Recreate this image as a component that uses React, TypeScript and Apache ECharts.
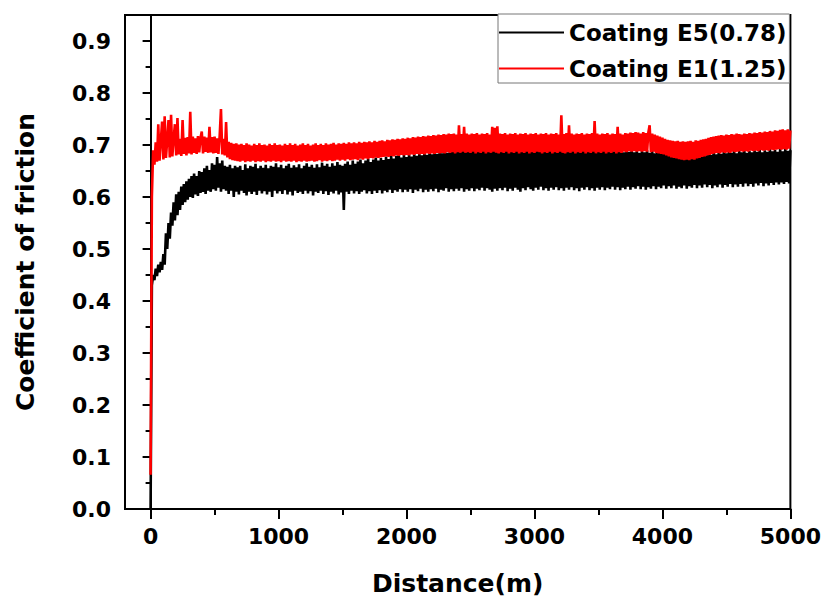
import React, { useEffect, useRef } from "react";
import * as echarts from "echarts";

// Sampling step of the recorded distance (m)
const STEP_M = 10;

// Coating E5(0.78) – coefficient of friction every 10 m, 0 … 5000 m
const E5_COF = [
  0, 0.43, 0.45, 0.44, 0.462, 0.448, 0.47, 0.455, 0.475, 0.46,
  0.49, 0.47, 0.53, 0.5, 0.55, 0.52, 0.57, 0.545, 0.59, 0.555,
  0.605, 0.565, 0.61, 0.575, 0.62, 0.585, 0.625, 0.59, 0.63, 0.595,
  0.635, 0.6, 0.64, 0.598, 0.645, 0.605, 0.64, 0.602, 0.65, 0.608,
  0.648, 0.61, 0.655, 0.606, 0.66, 0.612, 0.652, 0.61, 0.665, 0.615,
  0.662, 0.612, 0.677, 0.618, 0.665, 0.61, 0.67, 0.615, 0.66, 0.612,
  0.658, 0.606, 0.662, 0.612, 0.655, 0.6, 0.66, 0.61, 0.657, 0.605,
  0.66, 0.612, 0.652, 0.608, 0.663, 0.603, 0.655, 0.61, 0.66, 0.606,
  0.658, 0.61, 0.664, 0.604, 0.655, 0.612, 0.66, 0.607, 0.656, 0.611,
  0.662, 0.605, 0.655, 0.61, 0.66, 0.6, 0.658, 0.612, 0.665, 0.607,
  0.657, 0.611, 0.662, 0.606, 0.655, 0.613, 0.66, 0.605, 0.664, 0.61,
  0.656, 0.603, 0.661, 0.612, 0.657, 0.608, 0.663, 0.61, 0.655, 0.606,
  0.66, 0.612, 0.665, 0.607, 0.658, 0.611, 0.662, 0.603, 0.656, 0.61,
  0.663, 0.608, 0.657, 0.612, 0.666, 0.606, 0.66, 0.611, 0.664, 0.604,
  0.658, 0.61, 0.665, 0.607, 0.66, 0.612, 0.667, 0.605, 0.662, 0.609,
  0.66, 0.575, 0.664, 0.61, 0.668, 0.606, 0.662, 0.612, 0.67, 0.607,
  0.664, 0.611, 0.668, 0.606, 0.672, 0.61, 0.665, 0.613, 0.67, 0.607,
  0.674, 0.611, 0.667, 0.606, 0.672, 0.612, 0.676, 0.608, 0.67, 0.613,
  0.675, 0.607, 0.671, 0.612, 0.678, 0.609, 0.673, 0.614, 0.68, 0.608,
  0.674, 0.613, 0.679, 0.61, 0.682, 0.615, 0.676, 0.609, 0.681, 0.614,
  0.677, 0.61, 0.683, 0.615, 0.678, 0.608, 0.685, 0.614, 0.679, 0.611,
  0.684, 0.616, 0.68, 0.609, 0.686, 0.614, 0.681, 0.61, 0.687, 0.615,
  0.682, 0.611, 0.688, 0.616, 0.683, 0.609, 0.689, 0.614, 0.684, 0.612,
  0.69, 0.617, 0.685, 0.61, 0.688, 0.615, 0.692, 0.611, 0.686, 0.616,
  0.691, 0.612, 0.687, 0.617, 0.693, 0.61, 0.688, 0.615, 0.695, 0.612,
  0.689, 0.617, 0.694, 0.611, 0.69, 0.616, 0.696, 0.613, 0.691, 0.618,
  0.697, 0.612, 0.692, 0.617, 0.698, 0.614, 0.693, 0.61, 0.699, 0.616,
  0.694, 0.612, 0.7, 0.617, 0.695, 0.613, 0.698, 0.618, 0.693, 0.611,
  0.699, 0.616, 0.695, 0.612, 0.701, 0.618, 0.696, 0.614, 0.7, 0.61,
  0.694, 0.617, 0.699, 0.613, 0.695, 0.619, 0.702, 0.615, 0.697, 0.612,
  0.7, 0.618, 0.695, 0.614, 0.699, 0.62, 0.696, 0.613, 0.701, 0.617,
  0.697, 0.612, 0.7, 0.618, 0.694, 0.614, 0.698, 0.619, 0.695, 0.613,
  0.699, 0.617, 0.696, 0.612, 0.7, 0.618, 0.695, 0.614, 0.698, 0.619,
  0.694, 0.613, 0.699, 0.617, 0.695, 0.611, 0.697, 0.618, 0.693, 0.614,
  0.698, 0.619, 0.694, 0.613, 0.697, 0.617, 0.692, 0.612, 0.696, 0.618,
  0.691, 0.614, 0.695, 0.619, 0.69, 0.613, 0.694, 0.618, 0.689, 0.615,
  0.693, 0.62, 0.688, 0.614, 0.692, 0.619, 0.687, 0.613, 0.691, 0.618,
  0.686, 0.615, 0.69, 0.62, 0.687, 0.614, 0.691, 0.619, 0.686, 0.616,
  0.69, 0.621, 0.685, 0.615, 0.689, 0.62, 0.686, 0.614, 0.69, 0.619,
  0.685, 0.616, 0.689, 0.621, 0.684, 0.615, 0.688, 0.62, 0.685, 0.617,
  0.689, 0.622, 0.684, 0.616, 0.688, 0.621, 0.683, 0.617, 0.687, 0.622,
  0.682, 0.616, 0.686, 0.62, 0.681, 0.617, 0.685, 0.622, 0.682, 0.616,
  0.686, 0.621, 0.681, 0.618, 0.685, 0.623, 0.68, 0.617, 0.684, 0.622,
  0.681, 0.618, 0.685, 0.624, 0.68, 0.619, 0.684, 0.623, 0.681, 0.617,
  0.686, 0.622, 0.682, 0.619, 0.687, 0.624, 0.683, 0.618, 0.688, 0.623,
  0.684, 0.62, 0.688, 0.625, 0.685, 0.619, 0.689, 0.624, 0.684, 0.62,
  0.689, 0.625, 0.686, 0.62, 0.69, 0.626, 0.685, 0.621, 0.689, 0.625,
  0.686, 0.62, 0.69, 0.626, 0.687, 0.622, 0.691, 0.627, 0.686, 0.621,
  0.69, 0.626, 0.687, 0.622, 0.692, 0.627, 0.688, 0.623, 0.691, 0.628,
  0.687, 0.624, 0.692, 0.628, 0.688, 0.625, 0.693, 0.629, 0.689, 0.626, 0.69,
];

// Coating E1(1.25) – coefficient of friction every 10 m, 0 … 5000 m
const E1_COF = [
  0.066, 0.6, 0.69, 0.662, 0.705, 0.668, 0.74, 0.67, 0.708, 0.745,
  0.672, 0.755, 0.675, 0.71, 0.748, 0.676, 0.758, 0.678, 0.712, 0.74,
  0.68, 0.752, 0.682, 0.712, 0.679, 0.748, 0.683, 0.714, 0.68, 0.715,
  0.684, 0.764, 0.682, 0.716, 0.685, 0.713, 0.683, 0.717, 0.686, 0.714,
  0.726, 0.684, 0.716, 0.687, 0.714, 0.685, 0.735, 0.686, 0.715, 0.684,
  0.716, 0.685, 0.713, 0.683, 0.718, 0.769, 0.682, 0.712, 0.68, 0.744,
  0.676, 0.706, 0.673, 0.704, 0.671, 0.702, 0.67, 0.703, 0.669, 0.701,
  0.668, 0.702, 0.67, 0.7, 0.667, 0.703, 0.669, 0.701, 0.668, 0.699,
  0.67, 0.702, 0.667, 0.7, 0.669, 0.703, 0.668, 0.7, 0.67, 0.701,
  0.667, 0.699, 0.669, 0.702, 0.668, 0.7, 0.67, 0.703, 0.668, 0.7,
  0.669, 0.701, 0.667, 0.699, 0.67, 0.702, 0.668, 0.7, 0.669, 0.703,
  0.668, 0.7, 0.67, 0.702, 0.667, 0.699, 0.669, 0.701, 0.668, 0.703,
  0.67, 0.7, 0.668, 0.702, 0.669, 0.699, 0.67, 0.701, 0.668, 0.703,
  0.669, 0.7, 0.671, 0.702, 0.668, 0.7, 0.67, 0.703, 0.669, 0.701,
  0.671, 0.702, 0.669, 0.704, 0.67, 0.701, 0.672, 0.703, 0.67, 0.702,
  0.672, 0.704, 0.67, 0.702, 0.673, 0.705, 0.671, 0.703, 0.672, 0.705,
  0.673, 0.703, 0.671, 0.706, 0.674, 0.704, 0.672, 0.706, 0.674, 0.705,
  0.673, 0.707, 0.675, 0.705, 0.674, 0.708, 0.676, 0.706, 0.675, 0.708,
  0.676, 0.709, 0.677, 0.707, 0.678, 0.71, 0.677, 0.709, 0.679, 0.711,
  0.678, 0.71, 0.68, 0.712, 0.679, 0.711, 0.681, 0.713, 0.68, 0.712,
  0.681, 0.714, 0.68, 0.713, 0.682, 0.715, 0.681, 0.714, 0.683, 0.716,
  0.682, 0.715, 0.683, 0.717, 0.682, 0.716, 0.684, 0.718, 0.683, 0.717,
  0.684, 0.719, 0.683, 0.718, 0.685, 0.72, 0.684, 0.719, 0.685, 0.721,
  0.684, 0.72, 0.686, 0.722, 0.685, 0.721, 0.686, 0.722, 0.684, 0.72,
  0.686, 0.738, 0.685, 0.721, 0.687, 0.735, 0.685, 0.722, 0.686, 0.72,
  0.685, 0.722, 0.687, 0.721, 0.684, 0.723, 0.686, 0.72, 0.685, 0.722,
  0.687, 0.721, 0.684, 0.723, 0.686, 0.72, 0.685, 0.735, 0.687, 0.733,
  0.685, 0.736, 0.684, 0.722, 0.686, 0.721, 0.685, 0.723, 0.687, 0.72,
  0.684, 0.722, 0.686, 0.721, 0.685, 0.723, 0.687, 0.72, 0.684, 0.722,
  0.686, 0.721, 0.685, 0.723, 0.687, 0.72, 0.684, 0.722, 0.686, 0.721,
  0.685, 0.723, 0.687, 0.72, 0.686, 0.722, 0.684, 0.721, 0.686, 0.723,
  0.685, 0.72, 0.687, 0.722, 0.684, 0.721, 0.686, 0.723, 0.685, 0.72,
  0.687, 0.757, 0.685, 0.721, 0.684, 0.723, 0.686, 0.738, 0.685, 0.722,
  0.687, 0.72, 0.684, 0.722, 0.686, 0.721, 0.685, 0.723, 0.687, 0.72,
  0.684, 0.722, 0.686, 0.721, 0.685, 0.723, 0.687, 0.746, 0.684, 0.722,
  0.686, 0.72, 0.685, 0.722, 0.687, 0.721, 0.684, 0.723, 0.686, 0.72,
  0.685, 0.722, 0.687, 0.721, 0.684, 0.735, 0.686, 0.722, 0.685, 0.72,
  0.687, 0.723, 0.686, 0.722, 0.688, 0.724, 0.687, 0.723, 0.688, 0.725,
  0.687, 0.724, 0.688, 0.722, 0.687, 0.725, 0.688, 0.723, 0.687, 0.724,
  0.738, 0.686, 0.722, 0.687, 0.72, 0.685, 0.718, 0.684, 0.716, 0.683,
  0.714, 0.682, 0.712, 0.68, 0.71, 0.678, 0.709, 0.676, 0.708, 0.675,
  0.707, 0.674, 0.708, 0.673, 0.706, 0.672, 0.707, 0.671, 0.706, 0.672,
  0.707, 0.671, 0.708, 0.673, 0.706, 0.672, 0.709, 0.674, 0.708, 0.675,
  0.71, 0.677, 0.711, 0.678, 0.712, 0.68, 0.714, 0.681, 0.715, 0.683,
  0.716, 0.684, 0.717, 0.685, 0.718, 0.684, 0.719, 0.686, 0.718, 0.685,
  0.72, 0.686, 0.719, 0.685, 0.721, 0.687, 0.72, 0.686, 0.722, 0.687,
  0.721, 0.688, 0.72, 0.687, 0.722, 0.688, 0.721, 0.687, 0.723, 0.689,
  0.722, 0.688, 0.724, 0.689, 0.723, 0.688, 0.725, 0.69, 0.724, 0.689,
  0.726, 0.69, 0.725, 0.689, 0.727, 0.691, 0.726, 0.69, 0.728, 0.691,
  0.727, 0.692, 0.729, 0.691, 0.73, 0.692, 0.728, 0.691, 0.73, 0.693, 0.728,
];

const SERIES_NAMES = ["Coating E5(0.78)", "Coating E1(1.25)"];
const SERIES_COLORS = ["#000000", "#ff0000"];

const X_MAJOR_TICKS = [0, 1000, 2000, 3000, 4000, 5000];
const X_MINOR_TICKS = [500, 1500, 2500, 3500, 4500];
const Y_MAJOR_TICKS = [0, 0.1, 0.2, 0.3, 0.4, 0.5, 0.6, 0.7, 0.8, 0.9];
const Y_MINOR_TICKS = [0.05, 0.15, 0.25, 0.35, 0.45, 0.55, 0.65, 0.75, 0.85];

const X_TITLE = "Distance(m)";
const Y_TITLE = "Coefficient of friction";

export default function App() {
  const ref = useRef<HTMLDivElement>(null);

  useEffect(() => {
    if (!ref.current) return;
    const chart = echarts.init(ref.current, null, { renderer: "svg" });
    const font = "'DejaVu Sans', 'Liberation Sans', sans-serif";
    const toPairs = (vals: number[]) => vals.map((v, i) => [i * STEP_M, v]);
    const axisLine = { show: true, lineStyle: { color: "#000", width: 2 } };
    const tickStyle = { color: "#000", width: 2 };
    const labelStyle = {
      color: "#000",
      fontSize: 22,
      fontWeight: "bold" as const,
      fontFamily: font,
    };
    const nameStyle = {
      color: "#000",
      fontSize: 25,
      fontWeight: "bold" as const,
      fontFamily: font,
    };

    chart.setOption({
      animation: false,
      backgroundColor: "#fff",
      grid: {
        left: 125,
        right: 33,
        top: 15,
        bottom: 92,
        show: true,
        borderColor: "#000",
        borderWidth: 2,
        backgroundColor: "transparent",
      },
      legend: {
        orient: "vertical",
        left: 498,
        top: 14,
        padding: [7, 3, 3, 0],
        itemGap: 13,
        itemWidth: 65,
        itemHeight: 22,
        borderColor: "#777",
        borderWidth: 1,
        backgroundColor: "#fff",
        selectedMode: false,
        data: SERIES_NAMES,
        itemStyle: { opacity: 0 },
        lineStyle: { width: 2 },
        textStyle: { ...labelStyle, fontSize: 23 },
      },
      xAxis: [
        {
          type: "value",
          min: -200,
          max: 5000,
          position: "bottom",
          axisLine,
          axisTick: { show: true, customValues: X_MAJOR_TICKS, length: 10, lineStyle: tickStyle },
          axisLabel: {
            customValues: X_MAJOR_TICKS,
            margin: 16,
            formatter: (v: number) => String(Math.round(v)),
            ...labelStyle,
          },
          splitLine: { show: false },
          name: X_TITLE,
          nameLocation: "middle",
          nameGap: 62,
          nameTextStyle: nameStyle,
        },
        {
          type: "value",
          min: -200,
          max: 5000,
          position: "bottom",
          axisLine: { show: false },
          axisTick: { show: true, customValues: X_MINOR_TICKS, length: 6, lineStyle: tickStyle },
          axisLabel: { show: false },
          splitLine: { show: false },
        },
      ],
      yAxis: [
        {
          type: "value",
          min: 0,
          max: 0.95,
          position: "left",
          axisLine,
          axisTick: { show: true, customValues: Y_MAJOR_TICKS, length: 8, lineStyle: tickStyle },
          axisLabel: {
            customValues: Y_MAJOR_TICKS,
            margin: 14,
            formatter: (v: number) => v.toFixed(1),
            ...labelStyle,
          },
          splitLine: { show: false },
          name: Y_TITLE,
          nameLocation: "middle",
          nameRotate: 90,
          nameGap: 87,
          nameTextStyle: nameStyle,
        },
        {
          type: "value",
          min: 0,
          max: 0.95,
          position: "left",
          axisLine: { show: false },
          axisTick: { show: true, customValues: Y_MINOR_TICKS, length: 5, lineStyle: tickStyle },
          axisLabel: { show: false },
          splitLine: { show: false },
        },
      ],
      series: [E5_COF, E1_COF].map((vals, k) => ({
        type: "line",
        name: SERIES_NAMES[k],
        xAxisIndex: 0,
        yAxisIndex: 0,
        data: toPairs(vals),
        symbol: "none",
        showSymbol: false,
        silent: true,
        z: 2 + k,
        color: SERIES_COLORS[k],
        lineStyle: { color: SERIES_COLORS[k], width: 2.6, join: "bevel" },
        itemStyle: { color: SERIES_COLORS[k] },
      })),
    });

    return () => chart.dispose();
  }, []);

  return (
    <div
      ref={ref}
      style={{
        position: "fixed",
        left: 0,
        top: 0,
        width: 824,
        height: 601,
        background: "#fff",
      }}
    />
  );
}
